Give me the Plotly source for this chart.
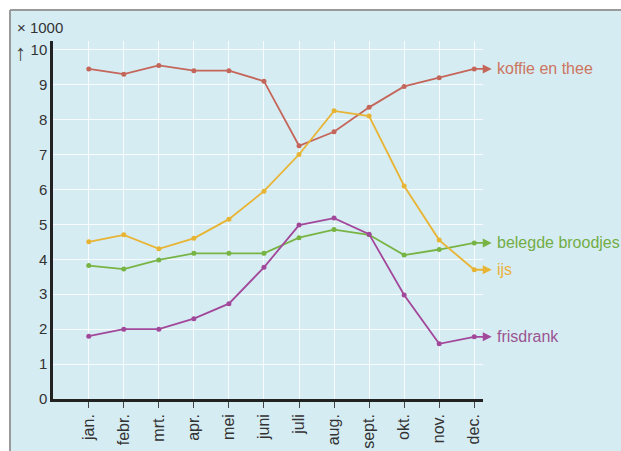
import plotly.graph_objects as go

# Maandelijkse verkoop (x 1000)
maanden = ["jan.", "febr.", "mrt.", "apr.", "mei", "juni", "juli", "aug.", "sept.", "okt.", "nov.", "dec."]
koffie_en_thee = [9.45, 9.3, 9.55, 9.4, 9.4, 9.1, 7.25, 7.65, 8.35, 8.95, 9.2, 9.45]
ijs = [4.5, 4.7, 4.3, 4.6, 5.15, 5.95, 7.0, 8.25, 8.1, 6.1, 4.55, 3.7]
belegde_broodjes = [3.82, 3.72, 3.98, 4.17, 4.17, 4.17, 4.62, 4.85, 4.7, 4.12, 4.28, 4.47]
frisdrank = [1.8, 2.0, 2.0, 2.3, 2.73, 3.77, 4.98, 5.18, 4.72, 2.98, 1.58, 1.78]

series = [
    ("koffie en thee", koffie_en_thee, "#c4665a", "#cc7560"),
    ("belegde broodjes", belegde_broodjes, "#78b444", "#72ad45"),
    ("ijs", ijs, "#e8b433", "#e9b23a"),
    ("frisdrank", frisdrank, "#a2489a", "#9a5592"),
]

W, H = 621, 451
ML, MR, MT, MB = 53, 138, 41, 52
XR = [-1.02, 11.25]
YR = [0, 10.25]

def xpaper(v):
    return (v - XR[0]) / (XR[1] - XR[0])

def ypaper(v):
    return (v - YR[0]) / (YR[1] - YR[0])

pw, ph = W - ML - MR, H - MT - MB

def px(x):
    return (x - ML) / pw

def py(y):
    return (H - MB - y) / ph

xs = list(range(len(maanden)))
fig = go.Figure()

for naam, waarden, lijnkleur, tekstkleur in series:
    fig.add_trace(go.Scatter(
        x=xs, y=waarden, mode="lines+markers", name=naam,
        line=dict(color=lijnkleur, width=1.8),
        marker=dict(color=lijnkleur, size=5),
        cliponaxis=False, showlegend=False,
    ))
    # pijl vanaf december naar het label
    fig.add_annotation(
        x=xpaper(11.5), y=ypaper(waarden[-1]), ax=-18, ay=0,
        xref="paper", yref="paper", axref="pixel", ayref="pixel",
        showarrow=True, arrowhead=2, arrowsize=1.0, arrowwidth=1.8,
        arrowcolor=lijnkleur, text="",
    )
    fig.add_annotation(
        x=xpaper(11.6), y=ypaper(waarden[-1]), xref="paper", yref="paper", text=naam,
        showarrow=False, xanchor="left", yanchor="middle",
        font=dict(family="Liberation Sans, Arial", size=16, color=tekstkleur),
    )

# lichtblauwe achtergrond
fig.add_shape(
    type="rect", xref="paper", yref="paper", x0=px(10), x1=px(640), y0=py(470), y1=py(10),
    fillcolor="#d6ecf3", line=dict(width=0), layer="below",
)

fig.add_annotation(
    x=px(15), y=py(27), xref="paper", yref="paper", text="× 1000",
    showarrow=False, xanchor="left", yanchor="middle",
    font=dict(family="Liberation Sans, Arial", size=15, color="#333333"),
)
fig.add_annotation(
    x=px(13), y=py(53), xref="paper", yref="paper", text="↑",
    showarrow=False, xanchor="left", yanchor="middle",
    font=dict(family="Liberation Sans, Arial", size=22, color="#444444"),
)

fig.update_layout(
    width=W, height=H,
    margin=dict(l=ML, r=MR, t=MT, b=MB),
    paper_bgcolor="white",
    plot_bgcolor="rgba(0,0,0,0)",
    xaxis=dict(
        range=XR, tickmode="array", tickvals=xs, ticktext=maanden,
        tickangle=-90, showgrid=True, gridcolor="rgba(255,255,255,0.85)", gridwidth=1,
        ticks="outside", ticklen=6, tickcolor="#444444", tickwidth=1.2,
        showline=True, linecolor="#222222", linewidth=2.5,
        tickfont=dict(family="Liberation Sans, Arial", size=16, color="#333333"),
        zeroline=False, automargin=False,
    ),
    yaxis=dict(
        range=YR, tickmode="array", tickvals=list(range(11)),
        showgrid=True, gridcolor="rgba(255,255,255,0.85)", gridwidth=1,
        ticks="", ticklabelstandoff=0,
        showline=True, linecolor="#222222", linewidth=2.5,
        tickfont=dict(family="Liberation Sans, Arial", size=15, color="#333333"),
        zeroline=False, automargin=False,
    ),
)

# grijze kaderlijnen links en boven
fig.add_shape(type="line", xref="paper", yref="paper",
              x0=px(10), x1=px(10), y0=py(10), y1=py(460),
              line=dict(color="#9a9a9a", width=2))
fig.add_shape(type="line", xref="paper", yref="paper",
              x0=px(10), x1=px(640), y0=py(10), y1=py(10),
              line=dict(color="#9a9a9a", width=2))

fig.write_html("out.html")
